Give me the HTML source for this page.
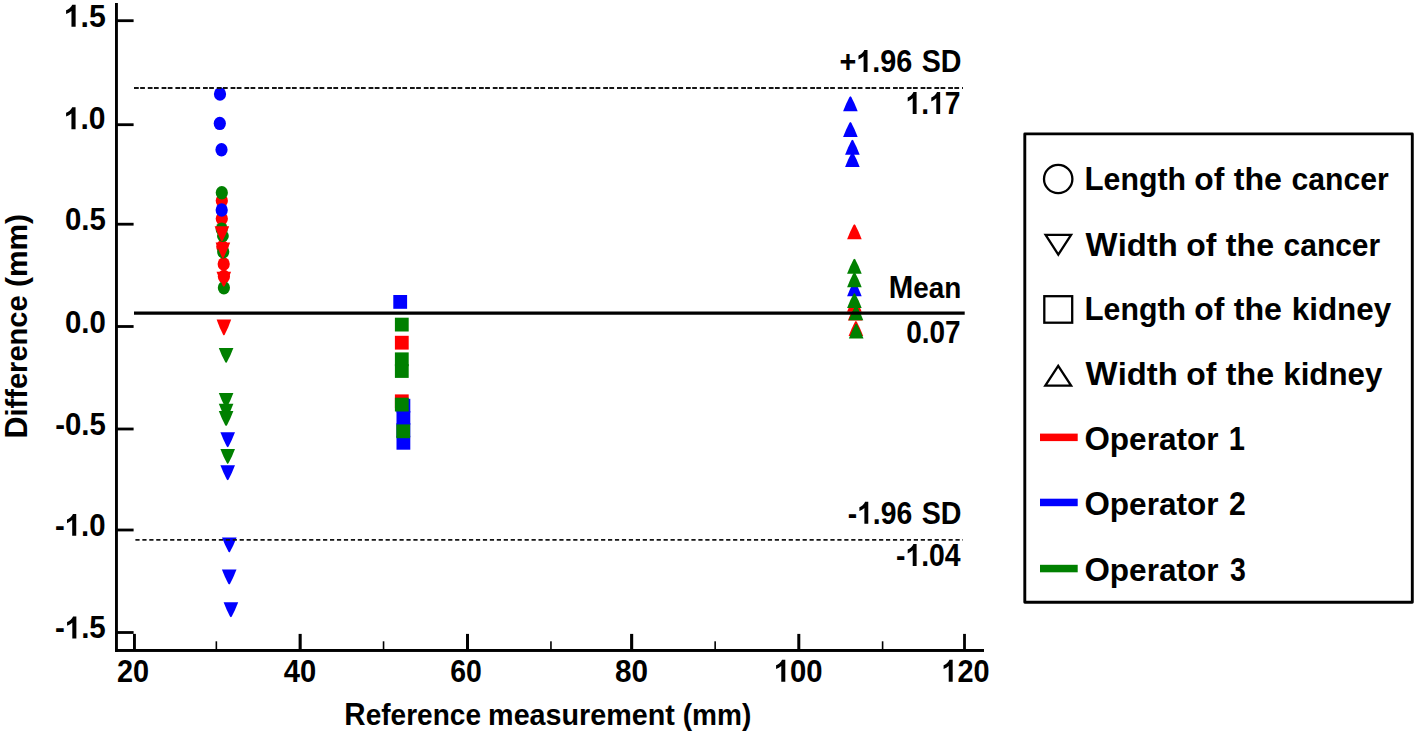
<!DOCTYPE html>
<html><head><meta charset="utf-8"><title>Bland-Altman plot</title>
<style>html,body{margin:0;padding:0;background:#fff;}svg{display:block;}text{font-family:'Liberation Sans', sans-serif;font-weight:bold;fill:#000;white-space:pre;}</style></head><body>
<svg width="1416" height="735" viewBox="0 0 1416 735">
<rect x="0" y="0" width="1416" height="735" fill="#fff"/>
<g id="markers">
<ellipse cx="221.8" cy="200.8" rx="6.1" ry="6.7" fill="#ff0000"/>
<ellipse cx="221.8" cy="218.8" rx="6.1" ry="6.7" fill="#ff0000"/>
<ellipse cx="222.3" cy="246.8" rx="6.1" ry="6.7" fill="#ff0000"/>
<ellipse cx="223.7" cy="263.9" rx="6.1" ry="6.7" fill="#ff0000"/>
<ellipse cx="223.9" cy="276.5" rx="6.1" ry="6.7" fill="#ff0000"/>
<ellipse cx="220.0" cy="94.0" rx="6.1" ry="6.7" fill="#0000ff"/>
<ellipse cx="219.8" cy="123.4" rx="6.1" ry="6.7" fill="#0000ff"/>
<ellipse cx="221.5" cy="149.7" rx="6.1" ry="6.7" fill="#0000ff"/>
<ellipse cx="221.7" cy="210.0" rx="6.1" ry="6.7" fill="#0000ff"/>
<ellipse cx="221.8" cy="192.7" rx="6.1" ry="6.7" fill="#008000"/>
<ellipse cx="221.7" cy="229.1" rx="6.1" ry="6.7" fill="#008000"/>
<ellipse cx="222.9" cy="236.0" rx="5.9" ry="5.9" fill="#008000"/>
<ellipse cx="223.2" cy="251.7" rx="6.1" ry="6.7" fill="#008000"/>
<ellipse cx="223.9" cy="287.8" rx="6.1" ry="6.7" fill="#008000"/>
<polygon points="214.6,226.2 229.2,226.2 226.1,233.7 222.8,240.4 221.9,241.2 221.0,240.4 217.7,233.7" fill="#ff0000"/>
<polygon points="215.6,242.4 230.2,242.4 227.1,250.3 223.8,257.4 222.9,258.2 222.0,257.4 218.7,250.3" fill="#ff0000"/>
<polygon points="216.5,271.8 231.1,271.8 228.0,279.3 224.7,286.0 223.8,286.8 222.9,286.0 219.6,279.3" fill="#ff0000"/>
<polygon points="216.6,319.6 231.2,319.6 228.1,327.5 224.8,334.6 223.9,335.4 223.0,334.6 219.7,327.5" fill="#ff0000"/>
<polygon points="220.4,432.2 235.0,432.2 231.9,439.7 228.6,446.4 227.7,447.2 226.8,446.4 223.5,439.7" fill="#0000ff"/>
<polygon points="220.4,465.2 235.0,465.2 231.9,472.7 228.6,479.4 227.7,480.2 226.8,479.4 223.5,472.7" fill="#0000ff"/>
<polygon points="222.0,537.4 236.6,537.4 233.5,544.9 230.2,551.6 229.3,552.4 228.4,551.6 225.1,544.9" fill="#0000ff"/>
<polygon points="221.9,569.5 236.5,569.5 233.4,577.0 230.1,583.7 229.2,584.5 228.3,583.7 225.0,577.0" fill="#0000ff"/>
<polygon points="223.6,602.3 238.2,602.3 235.1,609.8 231.8,616.5 230.9,617.3 230.0,616.5 226.7,609.8" fill="#0000ff"/>
<polygon points="218.8,347.9 233.4,347.9 230.3,355.4 227.0,362.1 226.1,362.9 225.2,362.1 221.9,355.4" fill="#008000"/>
<polygon points="218.8,393.1 233.4,393.1 230.3,400.6 227.0,407.3 226.1,408.1 225.2,407.3 221.9,400.6" fill="#008000"/>
<polygon points="218.8,403.7 233.4,403.7 230.3,411.2 227.0,417.9 226.1,418.7 225.2,417.9 221.9,411.2" fill="#008000"/>
<polygon points="218.8,411.0 233.4,411.0 230.3,418.5 227.0,425.2 226.1,426.0 225.2,425.2 221.9,418.5" fill="#008000"/>
<polygon points="220.4,448.9 235.0,448.9 231.9,456.4 228.6,463.1 227.7,463.9 226.8,463.1 223.5,456.4" fill="#008000"/>
<rect x="394.9" y="335.8" width="13.8" height="13.8" fill="#ff0000"/>
<rect x="394.9" y="394.4" width="13.8" height="13.8" fill="#ff0000"/>
<rect x="393.3" y="295.0" width="13.8" height="13.8" fill="#0000ff"/>
<rect x="396.5" y="398.8" width="13.8" height="13.8" fill="#0000ff"/>
<rect x="396.5" y="411.0" width="13.8" height="13.8" fill="#0000ff"/>
<rect x="396.5" y="423.0" width="13.8" height="13.8" fill="#0000ff"/>
<rect x="396.5" y="435.9" width="13.8" height="13.8" fill="#0000ff"/>
<rect x="394.9" y="317.7" width="13.8" height="13.8" fill="#008000"/>
<rect x="394.9" y="352.4" width="13.8" height="13.8" fill="#008000"/>
<rect x="394.9" y="364.1" width="13.8" height="13.8" fill="#008000"/>
<rect x="394.9" y="397.7" width="13.8" height="13.8" fill="#008000"/>
<rect x="396.3" y="424.4" width="13.8" height="13.8" fill="#008000"/>
<polygon points="847.1,239.3 861.7,239.3 858.6,231.8 855.3,225.1 854.4,224.3 853.5,225.1 850.2,231.8" fill="#ff0000"/>
<polygon points="847.1,311.7 861.7,311.7 858.6,304.2 855.3,297.5 854.4,296.7 853.5,297.5 850.2,304.2" fill="#ff0000"/>
<polygon points="847.9,320.5 862.5,320.5 859.4,313.0 856.1,306.3 855.2,305.5 854.3,306.3 851.0,313.0" fill="#ff0000"/>
<polygon points="848.6,336.0 863.2,336.0 860.1,328.5 856.8,321.8 855.9,321.0 855.0,321.8 851.7,328.5" fill="#ff0000"/>
<polygon points="843.1,111.3 857.7,111.3 854.6,103.8 851.3,97.1 850.4,96.3 849.5,97.1 846.2,103.8" fill="#0000ff"/>
<polygon points="843.1,136.9 857.7,136.9 854.6,129.4 851.3,122.7 850.4,121.9 849.5,122.7 846.2,129.4" fill="#0000ff"/>
<polygon points="845.1,154.8 859.7,154.8 856.6,147.3 853.3,140.6 852.4,139.8 851.5,140.6 848.2,147.3" fill="#0000ff"/>
<polygon points="845.1,167.1 859.7,167.1 856.6,159.6 853.3,152.9 852.4,152.1 851.5,152.9 848.2,159.6" fill="#0000ff"/>
<polygon points="847.1,296.2 861.7,296.2 858.6,288.7 855.3,282.0 854.4,281.2 853.5,282.0 850.2,288.7" fill="#0000ff"/>
<polygon points="847.1,273.7 861.7,273.7 858.6,266.2 855.3,259.5 854.4,258.7 853.5,259.5 850.2,266.2" fill="#008000"/>
<polygon points="847.1,287.3 861.7,287.3 858.6,279.8 855.3,273.1 854.4,272.3 853.5,273.1 850.2,279.8" fill="#008000"/>
<polygon points="847.1,308.1 861.7,308.1 858.6,300.6 855.3,293.9 854.4,293.1 853.5,293.9 850.2,300.6" fill="#008000"/>
<polygon points="848.7,320.3 863.3,320.3 860.2,312.8 856.9,306.1 856.0,305.3 855.1,306.1 851.8,312.8" fill="#008000"/>
<polygon points="848.9,338.6 863.5,338.6 860.4,331.1 857.1,324.4 856.2,323.6 855.3,324.4 852.0,331.1" fill="#008000"/>
</g>
<g id="lines" stroke="#000" fill="none">
<line x1="134" y1="88.0" x2="963" y2="88.0" stroke-width="1.9" stroke="#151515" stroke-dasharray="4.75 1.4 4.75 2.9"/>
<line x1="135.4" y1="539.9" x2="963" y2="539.9" stroke-width="1.9" stroke="#151515" stroke-dasharray="4.2 2.75"/>
<line x1="134" y1="313.1" x2="964.7" y2="313.1" stroke-width="3.2"/>
</g>
<g id="axes" fill="#000">
<rect x="115" y="3" width="2.9" height="649"/>
<rect x="115" y="649" width="869" height="2.95"/>
<rect x="117" y="19.3" width="16.6" height="2.8"/>
<rect x="117" y="123.3" width="16.6" height="2.8"/>
<rect x="117" y="222.8" width="16.6" height="2.8"/>
<rect x="117" y="325.1" width="16.6" height="2.8"/>
<rect x="117" y="427.6" width="16.6" height="2.8"/>
<rect x="117" y="528.6" width="16.6" height="2.8"/>
<rect x="117" y="631.1" width="16.6" height="2.8"/>
<rect x="133" y="633.9" width="2.9" height="16"/>
<rect x="298.6" y="633.9" width="3.1" height="16"/>
<rect x="466" y="633.9" width="3.0" height="16"/>
<rect x="630.1" y="633.9" width="3.1" height="16"/>
<rect x="797.3" y="633.9" width="3.0" height="16"/>
<rect x="963.1" y="633.9" width="2.8" height="16"/>
<rect x="215.55" y="641.3" width="1.6" height="8"/>
<rect x="382.75" y="641.3" width="1.6" height="8"/>
<rect x="550.15" y="641.3" width="1.6" height="8"/>
<rect x="714.35" y="641.3" width="1.6" height="8"/>
<rect x="881.80" y="641.3" width="1.6" height="8"/>
</g>
<g id="labels">
<g transform="translate(63.70,26.70) scale(0.9476,0.99)"><path transform="translate(0.00,0) scale(0.01562,0.01503)" d="M806 0H525V-1059Q371 -915 162 -846V-1101Q272 -1137 401 -1237.5Q530 -1338 578 -1472H806Z"/><text x="17.80" font-size="32.0">.5</text></g>
<g transform="translate(63.72,129.20) scale(0.9403,0.99)"><path transform="translate(0.00,0) scale(0.01562,0.01503)" d="M806 0H525V-1059Q371 -915 162 -846V-1101Q272 -1137 401 -1237.5Q530 -1338 578 -1472H806Z"/><text x="17.80" font-size="32.0">.0</text></g>
<g transform="translate(64.98,230.20) scale(0.9183,0.99)"><text font-size="32.0">0.5</text></g>
<g transform="translate(64.98,332.80) scale(0.9183,0.99)"><text font-size="32.0">0.0</text></g>
<g transform="translate(55.18,435.00) scale(0.9186,0.99)"><text font-size="32.0">-0.5</text></g>
<g transform="translate(54.88,535.80) scale(0.9186,0.99)"><text x="0.00" font-size="32.0">-</text><path transform="translate(10.66,0) scale(0.01562,0.01503)" d="M806 0H525V-1059Q371 -915 162 -846V-1101Q272 -1137 401 -1237.5Q530 -1338 578 -1472H806Z"/><text x="28.45" font-size="32.0">.0</text></g>
<g transform="translate(54.88,638.40) scale(0.9242,0.99)"><text x="0.00" font-size="32.0">-</text><path transform="translate(10.66,0) scale(0.01562,0.01503)" d="M806 0H525V-1059Q371 -915 162 -846V-1101Q272 -1137 401 -1237.5Q530 -1338 578 -1472H806Z"/><text x="28.45" font-size="32.0">.5</text></g>
<g transform="translate(116.90,681.70) scale(0.9025,0.99)"><text font-size="32.0">20</text></g>
<g transform="translate(283.80,681.70) scale(0.9110,0.99)"><text font-size="32.0">40</text></g>
<g transform="translate(450.31,681.70) scale(0.8877,0.99)"><text font-size="32.0">60</text></g>
<g transform="translate(614.97,681.70) scale(0.9291,0.99)"><text font-size="32.0">80</text></g>
<g transform="translate(773.78,681.70) scale(0.9149,0.99)"><path transform="translate(0.00,0) scale(0.01562,0.01503)" d="M806 0H525V-1059Q371 -915 162 -846V-1101Q272 -1137 401 -1237.5Q530 -1338 578 -1472H806Z"/><text x="17.80" font-size="32.0">00</text></g>
<g transform="translate(941.31,681.70) scale(0.9029,0.99)"><path transform="translate(0.00,0) scale(0.01562,0.01503)" d="M806 0H525V-1059Q371 -915 162 -846V-1101Q272 -1137 401 -1237.5Q530 -1338 578 -1472H806Z"/><text x="17.80" font-size="32.0">20</text></g>
<g transform="translate(344.35,725.00) scale(0.9227,0.99)"><text><tspan font-size="32.0">R</tspan><tspan font-size="30.4">eference</tspan></text></g>
<g transform="translate(488.11,725.00) scale(0.9452,0.99)"><text font-size="30.4">measurement</text></g>
<g transform="translate(682.78,725.00) scale(0.9229,0.99)"><text font-size="30.4">(mm)</text></g>
<g transform="translate(839.40,72.00) scale(0.8993,0.99)"><text x="0.00" font-size="32.0">+</text><path transform="translate(18.69,0) scale(0.01562,0.01503)" d="M806 0H525V-1059Q371 -915 162 -846V-1101Q272 -1137 401 -1237.5Q530 -1338 578 -1472H806Z"/><text x="36.48" font-size="32.0">.96</text></g>
<g transform="translate(921.70,72.00) scale(0.8952,0.99)"><text font-size="32.0">SD</text></g>
<g transform="translate(905.46,114.00) scale(0.8838,0.99)"><path transform="translate(0.00,0) scale(0.01562,0.01503)" d="M806 0H525V-1059Q371 -915 162 -846V-1101Q272 -1137 401 -1237.5Q530 -1338 578 -1472H806Z"/><text x="17.80" font-size="32.0">.</text><path transform="translate(26.69,0) scale(0.01562,0.01503)" d="M806 0H525V-1059Q371 -915 162 -846V-1101Q272 -1137 401 -1237.5Q530 -1338 578 -1472H806Z"/><text x="44.48" font-size="32.0">7</text></g>
<g transform="translate(888.66,297.90) scale(0.9184,0.99)"><text><tspan font-size="32.0">M</tspan><tspan font-size="30.4">ean</tspan></text></g>
<g transform="translate(906.13,342.90) scale(0.8730,0.99)"><text font-size="32.0">0.07</text></g>
<g transform="translate(847.72,523.70) scale(0.8842,0.99)"><text x="0.00" font-size="32.0">-</text><path transform="translate(10.66,0) scale(0.01562,0.01503)" d="M806 0H525V-1059Q371 -915 162 -846V-1101Q272 -1137 401 -1237.5Q530 -1338 578 -1472H806Z"/><text x="28.45" font-size="32.0">.96</text></g>
<g transform="translate(921.70,523.70) scale(0.8952,0.99)"><text font-size="32.0">SD</text></g>
<g transform="translate(896.01,566.00) scale(0.8858,0.99)"><text x="0.00" font-size="32.0">-</text><path transform="translate(10.66,0) scale(0.01562,0.01503)" d="M806 0H525V-1059Q371 -915 162 -846V-1101Q272 -1137 401 -1237.5Q530 -1338 578 -1472H806Z"/><text x="28.45" font-size="32.0">.04</text></g>
<g transform="translate(1084.42,189.70) scale(0.9407,1.0)"><text><tspan font-size="33.3">L</tspan><tspan font-size="32.2">ength</tspan></text></g>
<g transform="translate(1194.31,189.70) scale(0.9878,1.0)"><text font-size="32.2">of</text></g>
<g transform="translate(1233.70,189.70) scale(1.0004,1.0)"><text font-size="32.2">the</text></g>
<g transform="translate(1291.46,189.70) scale(0.9374,1.0)"><text font-size="32.2">cancer</text></g>
<g transform="translate(1085.60,255.60) scale(1.0186,1.0)"><text><tspan font-size="33.3">W</tspan><tspan font-size="32.2">idth</tspan></text></g>
<g transform="translate(1186.31,255.60) scale(0.9912,1.0)"><text font-size="32.2">of</text></g>
<g transform="translate(1225.80,255.60) scale(1.0004,1.0)"><text font-size="32.2">the</text></g>
<g transform="translate(1283.57,255.60) scale(0.9306,1.0)"><text font-size="32.2">cancer</text></g>
<g transform="translate(1084.42,320.30) scale(0.9407,1.0)"><text><tspan font-size="33.3">L</tspan><tspan font-size="32.2">ength</tspan></text></g>
<g transform="translate(1194.31,320.30) scale(0.9878,1.0)"><text font-size="32.2">of</text></g>
<g transform="translate(1233.70,320.30) scale(1.0004,1.0)"><text font-size="32.2">the</text></g>
<g transform="translate(1291.65,320.30) scale(0.9773,1.0)"><text font-size="32.2">kidney</text></g>
<g transform="translate(1085.60,385.30) scale(1.0186,1.0)"><text><tspan font-size="33.3">W</tspan><tspan font-size="32.2">idth</tspan></text></g>
<g transform="translate(1186.31,385.30) scale(0.9912,1.0)"><text font-size="32.2">of</text></g>
<g transform="translate(1225.80,385.30) scale(1.0004,1.0)"><text font-size="32.2">the</text></g>
<g transform="translate(1283.26,385.30) scale(0.9713,1.0)"><text font-size="32.2">kidney</text></g>
<g transform="translate(1084.42,450.00) scale(0.9811,1.0)"><text><tspan font-size="33.3">O</tspan><tspan font-size="32.2">perator</tspan></text></g>
<g transform="translate(1228.85,450.00) scale(0.8750,1.0)"><text font-size="33.3">1</text></g>
<g transform="translate(1084.42,514.80) scale(0.9811,1.0)"><text><tspan font-size="33.3">O</tspan><tspan font-size="32.2">perator</tspan></text></g>
<g transform="translate(1228.99,514.80) scale(0.9059,1.0)"><text font-size="33.3">2</text></g>
<g transform="translate(1084.42,580.50) scale(0.9811,1.0)"><text><tspan font-size="33.3">O</tspan><tspan font-size="32.2">perator</tspan></text></g>
<g transform="translate(1229.90,580.50) scale(0.8556,1.0)"><text font-size="33.3">3</text></g>
<g transform="translate(27.20,438.51) rotate(-90) scale(0.9551,0.99)"><text><tspan font-size="32.0">D</tspan><tspan font-size="30.4">ifference</tspan></text></g>
<g transform="translate(27.20,286.88) rotate(-90) scale(0.9811,0.99)"><text font-size="30.4">(mm)</text></g>
</g>
<g id="legend">
<rect x="1024.8" y="133.9" width="387.5" height="468.4" fill="none" stroke="#000" stroke-width="2.9" stroke-linejoin="round"/>
<circle cx="1058.2" cy="179" r="14.2" fill="none" stroke="#000" stroke-width="2.3"/>
<polygon points="1045.6,234.8 1071.1,234.8 1058.3,254.6" fill="none" stroke="#000" stroke-width="2.3"/>
<rect x="1044.3" y="296.2" width="27.9" height="26.5" fill="none" stroke="#000" stroke-width="2.3"/>
<polygon points="1045.3,385.7 1071.1,385.7 1058.2,365.8" fill="none" stroke="#000" stroke-width="2.3"/>
<rect x="1040" y="433.6" width="37.7" height="7.5" fill="#ff0000"/>
<rect x="1040" y="498.7" width="37.7" height="7.5" fill="#0000ff"/>
<rect x="1040" y="564.8" width="37.7" height="7.5" fill="#008000"/>
</g>
</svg></body></html>
